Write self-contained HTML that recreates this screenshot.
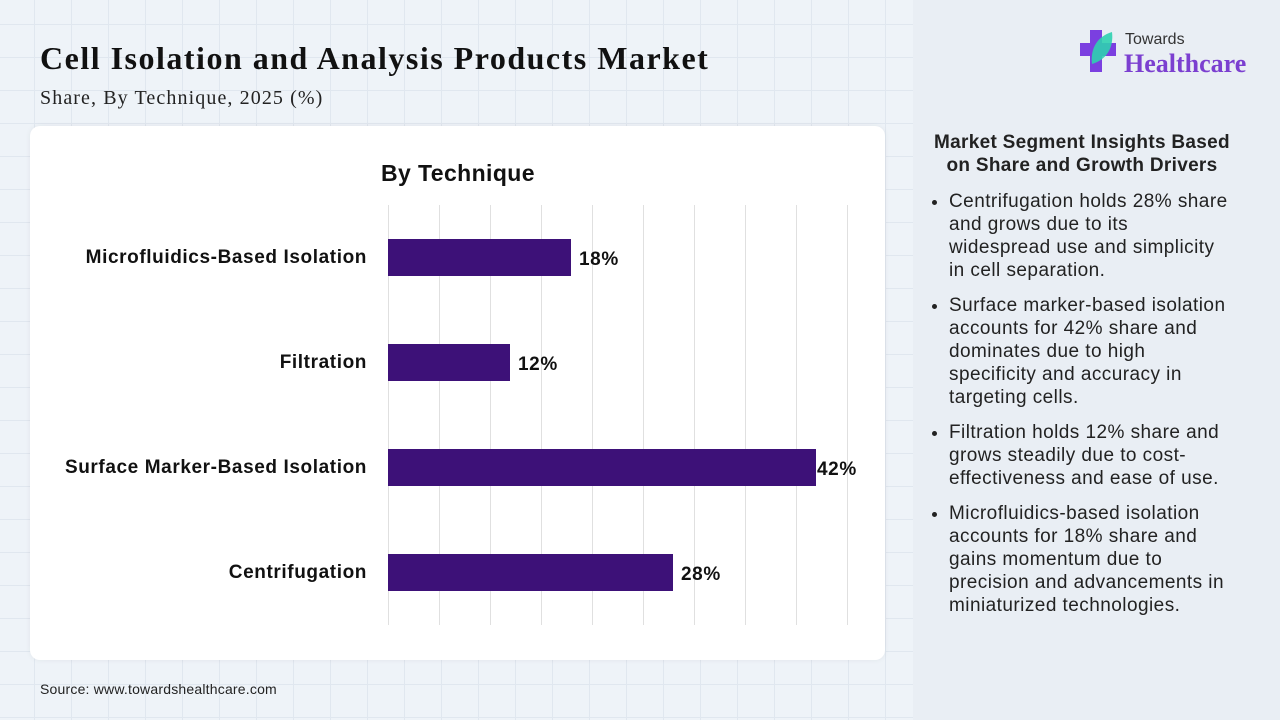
<!DOCTYPE html>
<html><head><style>
body{margin:0;width:1280px;height:720px;overflow:hidden;font-family:"Liberation Sans",sans-serif;position:relative;
background-color:#eef3f8;
background-image:linear-gradient(#e0e7ef 1px,transparent 1px),linear-gradient(90deg,#e0e7ef 1px,transparent 1px);
background-size:37px 33px;background-position:-3px -9px;}
.right{position:absolute;left:913px;top:0;width:367px;height:720px;background:#e9eef4;}
h1{position:absolute;left:40px;top:40px;margin:0;font-family:"Liberation Serif",serif;font-size:32px;font-weight:bold;color:#111;letter-spacing:1.5px;white-space:nowrap;}
.sub{position:absolute;left:40px;top:87px;font-family:"Liberation Serif",serif;font-size:20px;color:#222;letter-spacing:1.1px;}
.card{position:absolute;left:30px;top:126px;width:855px;height:534px;background:#fff;border-radius:10px;box-shadow:0 0 6px rgba(0,0,0,0.06);}
.src{position:absolute;left:40px;top:681px;font-size:14px;color:#222;letter-spacing:0.2px;}
.ins{position:absolute;left:922px;top:131px;width:340px;font-size:19px;color:#222;letter-spacing:0.45px;white-space:nowrap;}
.ins h3{margin:0 0 13px;text-align:center;font-size:19px;font-weight:bold;line-height:23px;width:320px;letter-spacing:0.3px;}
.ins ul{margin:0;padding-left:27px;}
.ins li{line-height:23px;margin-bottom:12px;}
</style></head><body>
<div class="right"></div>
<h1>Cell Isolation and Analysis Products Market</h1>
<div class="sub">Share, By Technique, 2025 (%)</div>
<div class="card"></div>
<svg style="position:absolute;left:0;top:0" width="913" height="720">
<text x="458" y="181" text-anchor="middle" font-family="Liberation Sans" font-weight="bold" font-size="23" letter-spacing="0.4" fill="#111">By Technique</text>
<g stroke="#e0e0e0" stroke-width="1">
<line x1="388.5" y1="205" x2="388.5" y2="625"/><line x1="439.5" y1="205" x2="439.5" y2="625"/><line x1="490.5" y1="205" x2="490.5" y2="625"/><line x1="541.5" y1="205" x2="541.5" y2="625"/><line x1="592.5" y1="205" x2="592.5" y2="625"/><line x1="643.5" y1="205" x2="643.5" y2="625"/><line x1="694.5" y1="205" x2="694.5" y2="625"/><line x1="745.5" y1="205" x2="745.5" y2="625"/><line x1="796.5" y1="205" x2="796.5" y2="625"/><line x1="847.5" y1="205" x2="847.5" y2="625"/>
</g>
<g fill="#3d1178">
<rect x="388" y="239" width="183" height="37"/>
<rect x="388" y="344" width="122" height="37"/>
<rect x="388" y="449" width="428" height="37"/>
<rect x="388" y="554" width="285" height="37"/>
</g>
<g font-family="Liberation Sans" font-weight="bold" font-size="19" letter-spacing="0.6" fill="#111">
<text x="367" y="263" text-anchor="end">Microfluidics-Based Isolation</text>
<text x="367" y="368" text-anchor="end">Filtration</text>
<text x="367" y="473" text-anchor="end">Surface Marker-Based Isolation</text>
<text x="367" y="578" text-anchor="end">Centrifugation</text>
<text x="579" y="265">18%</text>
<text x="518" y="370">12%</text>
<text x="817" y="475">42%</text>
<text x="681" y="580">28%</text>
</g>
</svg>
<div class="src">Source: www.towardshealthcare.com</div>
<svg style="position:absolute;left:1078px;top:28px" width="200" height="50">
<rect x="12" y="2" width="12" height="42" fill="#7b3fe0"/><rect x="2" y="15" width="36" height="13" fill="#7b3fe0"/>
<path d="M14 36 C12 20 20 8 34 4 C36 20 28 32 14 36Z" fill="#2fd0b0" opacity="0.9"/>
<text x="47" y="16" font-family="Liberation Sans" font-size="16" fill="#333">Towards</text>
<text x="46" y="44" font-family="Liberation Serif" font-weight="bold" font-size="26" fill="#7b3fd0">Healthcare</text>
</svg>
<div class="ins">
<h3>Market Segment Insights Based<br>on Share and Growth Drivers</h3>
<ul>
<li>Centrifugation holds 28% share<br>and grows due to its<br>widespread use and simplicity<br>in cell separation.</li>
<li>Surface marker-based isolation<br>accounts for 42% share and<br>dominates due to high<br>specificity and accuracy in<br>targeting cells.</li>
<li>Filtration holds 12% share and<br>grows steadily due to cost-<br>effectiveness and ease of use.</li>
<li>Microfluidics-based isolation<br>accounts for 18% share and<br>gains momentum due to<br>precision and advancements in<br>miniaturized technologies.</li>
</ul>
</div>
</body></html>
